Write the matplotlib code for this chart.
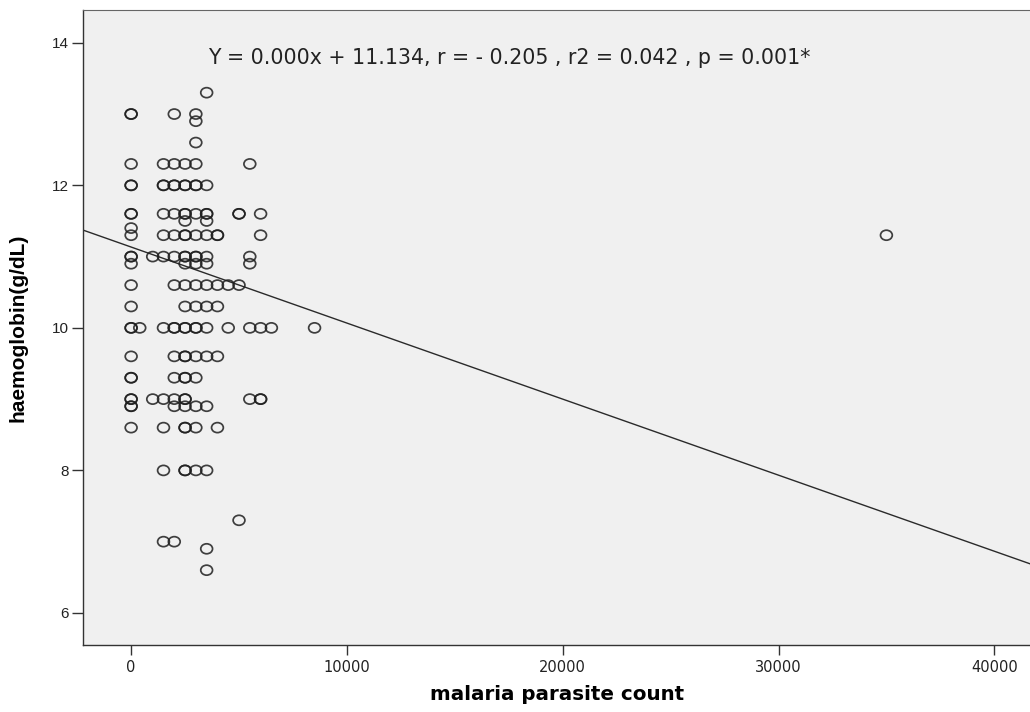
import matplotlib
matplotlib.use("Agg")
import matplotlib.pyplot as plt
from matplotlib.path import Path
from matplotlib.markers import MarkerStyle
from matplotlib.transforms import Affine2D

# ---- data ----
parasite_count = [
    3500,                                   # 13.3
    0, 0, 2000, 3000,                       # 13.0
    3000,                                   # 12.9
    3000,                                   # 12.6
    0, 1500, 2000, 2500, 3000, 5500,        # 12.3
    0, 0, 1500, 1500, 2000, 2000, 2500, 2500, 3000, 3000, 3500,   # 12.0
    0, 0, 1500, 2000, 2500, 2500, 3000, 3500, 3500, 5000, 5000, 6000,  # 11.6
    2500, 3500,                             # 11.5
    0,                                      # 11.4
    0, 1500, 2000, 2500, 2500, 3000, 3500, 4000, 4000, 6000, 35000,   # 11.3
    0, 0, 1000, 1500, 2000, 2500, 2500, 3000, 3000, 3500, 5500,      # 11.0
    0, 2500, 3000, 3500, 5500,              # 10.9
    0, 2000, 2500, 3000, 3500, 4000, 4500, 5000,   # 10.6
    0, 2500, 3000, 3500, 4000,              # 10.3
    0, 0, 400, 1500, 2000, 2000, 2500, 2500, 3000, 3000, 3500, 4500, 5500, 6000, 6500, 8500,  # 10.0
    0, 2000, 2500, 2500, 3000, 3500, 4000,  # 9.6
    0, 0, 2000, 2500, 2500, 3000,           # 9.3
    0, 0, 1000, 1500, 2000, 2500, 2500, 5500, 6000, 6000,  # 9.0
    0, 0, 2000, 2500, 3000, 3500,           # 8.9
    0, 1500, 2500, 2500, 3000, 4000,        # 8.6
    1500, 2500, 2500, 3000, 3500,           # 8.0
    5000,                                   # 7.3
    1500, 2000,                             # 7.0
    3500,                                   # 6.9
    3500,                                   # 6.6
]
haemoglobin = (
    [13.3] * 1 + [13.0] * 4 + [12.9] * 1 + [12.6] * 1 + [12.3] * 6 + [12.0] * 11
    + [11.6] * 12 + [11.5] * 2 + [11.4] * 1 + [11.3] * 11 + [11.0] * 11
    + [10.9] * 5 + [10.6] * 8 + [10.3] * 5 + [10.0] * 16 + [9.6] * 7
    + [9.3] * 6 + [9.0] * 10 + [8.9] * 6 + [8.6] * 6 + [8.0] * 5
    + [7.3] * 1 + [7.0] * 2 + [6.9] * 1 + [6.6] * 1
)
fit_intercept = 11.134
fit_slope = -0.0001067
x_ticks = [0, 10000, 20000, 30000, 40000]
y_ticks = [6, 8, 10, 12, 14]
equation = "Y = 0.000x + 11.134, r = - 0.205 , r2 = 0.042 , p = 0.001*"

plt.rcParams['font.family'] = ['Liberation Sans', 'DejaVu Sans']

fig = plt.figure(figsize=(10.30, 7.12), dpi=100)
fig.patch.set_facecolor('white')
ax = fig.add_axes([83 / 1030, 67 / 712, (1030 - 83) / 1030 + 0.002, (645 - 10) / 712])
ax.set_facecolor('#F0F0F0')

# slightly wide open ellipse marker (reference circles are wider than tall)
ell = Path.unit_circle().transformed(Affine2D().scale(1.18, 1.0))
marker = MarkerStyle(ell)

ax.scatter(parasite_count, haemoglobin, s=72, marker=marker, facecolors='none',
           edgecolors=(0.12, 0.12, 0.12, 0.85), linewidths=1.25, zorder=3)
ax.axline((0, fit_intercept), slope=fit_slope, color='#2a2a2a', lw=1.0, zorder=2)

ax.set_xlim(-2230, 41750)
ax.set_ylim(5.55, 14.46)
ax.set_xticks(x_ticks)
ax.set_xticklabels([str(t) for t in x_ticks], fontfamily='DejaVu Sans', fontsize=10.5)
ax.set_yticks(y_ticks)
ax.set_yticklabels([str(t) for t in y_ticks], fontfamily='Liberation Sans', fontsize=11)
ax.tick_params(axis='x', direction='out', length=7.5, width=1.0, color='#333333',
               pad=3, labelcolor='#222222')
ax.tick_params(axis='y', direction='out', length=8, width=1.0, color='#333333',
               pad=2, labelcolor='#222222')

for side in ['left', 'bottom']:
    ax.spines[side].set_color('#333333')
    ax.spines[side].set_linewidth(1.0)
ax.spines['top'].set_color('#666666')
ax.spines['right'].set_visible(False)

ax.set_xlabel('malaria parasite count', fontsize=14.3, fontweight='bold',
              fontfamily='DejaVu Sans')
ax.xaxis.label.set_va('center')
ax.xaxis.set_label_coords((556 - 83) / 947, (645 - 695) / 635)
ax.set_ylabel('haemoglobin(g/dL)', fontsize=15, fontweight='bold',
              fontfamily='Liberation Sans')
ax.yaxis.label.set_va('center')
ax.yaxis.set_label_coords((18 - 83) / 947, (645 - 328) / 635)

ax.text((208 - 83) / 947, (645 - 58) / 635, equation, transform=ax.transAxes,
        fontsize=14.8, fontfamily='DejaVu Sans', color='#222222', ha='left', va='center')

fig.savefig('out.png', dpi=100, facecolor='white')
